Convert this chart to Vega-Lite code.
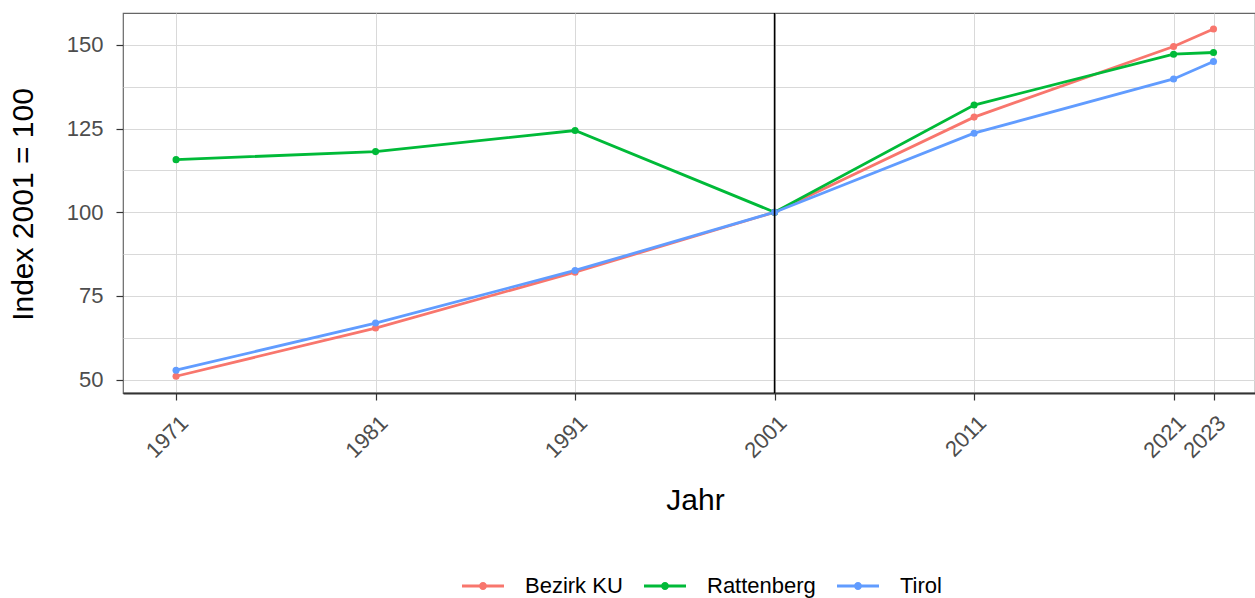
{
  "$schema": "https://vega.github.io/schema/vega-lite/v6.json",
  "width": 1132,
  "height": 380,
  "autosize": {"type": "none"},
  "padding": {"left": 123, "top": 13, "right": 0, "bottom": 205},
  "background": "white",
  "config": {
    "font": "Liberation Sans",
    "view": {"stroke": "#666666", "strokeWidth": 1.2},
    "axis": {"labelFont": "Liberation Sans", "titleFont": "Liberation Sans", "titleFontWeight": "normal", "labelColor": "#4D4D4D", "titleColor": "#000000", "gridColor": "#D9D9D9", "gridWidth": 1, "tickColor": "#333333", "tickSize": 7, "tickWidth": 1.2}
  },
  "data": {
    "values": [
      {"Jahr": 1971, "Region": "Bezirk KU", "Index": 51.0},
      {"Jahr": 1981, "Region": "Bezirk KU", "Index": 65.4},
      {"Jahr": 1991, "Region": "Bezirk KU", "Index": 82.1},
      {"Jahr": 2001, "Region": "Bezirk KU", "Index": 100},
      {"Jahr": 2011, "Region": "Bezirk KU", "Index": 128.4},
      {"Jahr": 2021, "Region": "Bezirk KU", "Index": 149.5},
      {"Jahr": 2023, "Region": "Bezirk KU", "Index": 154.7},
      {"Jahr": 1971, "Region": "Rattenberg", "Index": 115.7},
      {"Jahr": 1981, "Region": "Rattenberg", "Index": 118.1},
      {"Jahr": 1991, "Region": "Rattenberg", "Index": 124.4},
      {"Jahr": 2001, "Region": "Rattenberg", "Index": 100},
      {"Jahr": 2011, "Region": "Rattenberg", "Index": 132.0},
      {"Jahr": 2021, "Region": "Rattenberg", "Index": 147.2},
      {"Jahr": 2023, "Region": "Rattenberg", "Index": 147.7},
      {"Jahr": 1971, "Region": "Tirol", "Index": 52.8},
      {"Jahr": 1981, "Region": "Tirol", "Index": 66.9},
      {"Jahr": 1991, "Region": "Tirol", "Index": 82.6},
      {"Jahr": 2001, "Region": "Tirol", "Index": 100},
      {"Jahr": 2011, "Region": "Tirol", "Index": 123.6},
      {"Jahr": 2021, "Region": "Tirol", "Index": 139.8},
      {"Jahr": 2023, "Region": "Tirol", "Index": 145.0}
    ]
  },
  "encoding": {
    "x": {
      "field": "Jahr", "type": "quantitative",
      "scale": {"domain": [1968.34, 2025.08], "nice": false, "zero": false},
      "axis": {
        "values": [1971, 1981, 1991, 2001, 2011, 2021, 2023],
        "format": "d",
        "title": "Jahr",
        "titleFontSize": 30,
        "titleX": 572, "titleY": 107, "titleBaseline": "middle", "titleAnchor": "middle", "titleAlign": "center",
        "labelFontSize": 22,
        "labelAngle": -45, "labelAlign": "right", "labelBaseline": "top",
        "labelOffset": 1, "labelPadding": 12,
        "domainColor": "#333333", "domainWidth": 2,
        "labelOverlap": false, "labelFlush": false
      }
    },
    "y": {
      "field": "Index", "type": "quantitative",
      "scale": {"domain": [46.0, 159.5], "nice": false, "zero": false},
      "axis": {
        "values": [50, 62.5, 75, 87.5, 100, 112.5, 125, 137.5, 150],
        "labelExpr": "datum.value % 25 == 0 ? datum.label : ''",
        "tickOpacity": {"condition": {"test": "datum.value % 25 != 0", "value": 0}, "value": 1},
        "title": "Index 2001 = 100",
        "titleFontSize": 30,
        "titleX": -100, "titleY": 191, "titleAngle": -90, "titleBaseline": "middle", "titleAlign": "center", "titleAnchor": "middle",
        "labelFontSize": 22, "labelPadding": 13,
        "domain": false,
        "labelOverlap": false, "labelFlush": false
      }
    },
    "color": {
      "field": "Region", "type": "nominal",
      "scale": {"domain": ["Bezirk KU", "Rattenberg", "Tirol"], "range": ["#F8766D", "#00BA38", "#619CFF"]},
      "legend": {
        "title": null,
        "orient": "none",
        "legendX": 339,
        "legendY": 552,
        "direction": "horizontal",
        "columns": 3,
        "padding": 0,
        "columnPadding": 21,
        "labelFont": "Liberation Sans",
        "labelFontSize": 22,
        "labelColor": "#000000",
        "labelOffset": 21,
        "symbolType": "M-1,-0.066L1,-0.066L1,0.066L-1,0.066Z M-0.19,0 A0.19,0.19 0 1,1 0.19,0 A0.19,0.19 0 1,1 -0.19,0 Z",
        "symbolSize": 1764,
        "symbolStrokeWidth": 0,
        "encode": {"symbols": {"update": {"fill": {"scale": "color", "field": "value"}, "fillOpacity": {"value": 1}, "strokeWidth": {"value": 0}}}}
      }
    }
  },
  "layer": [
    {"mark": {"type": "line", "strokeWidth": 2.8}},
    {"mark": {"type": "point", "filled": true, "size": 50, "opacity": 1}},
    {
      "data": {"values": [{"Jahr": 2001}]},
      "mark": {"type": "rule", "color": "black", "strokeWidth": 1.6},
      "encoding": {"x": {"field": "Jahr", "type": "quantitative"}, "y": null, "color": null}
    }
  ]
}
